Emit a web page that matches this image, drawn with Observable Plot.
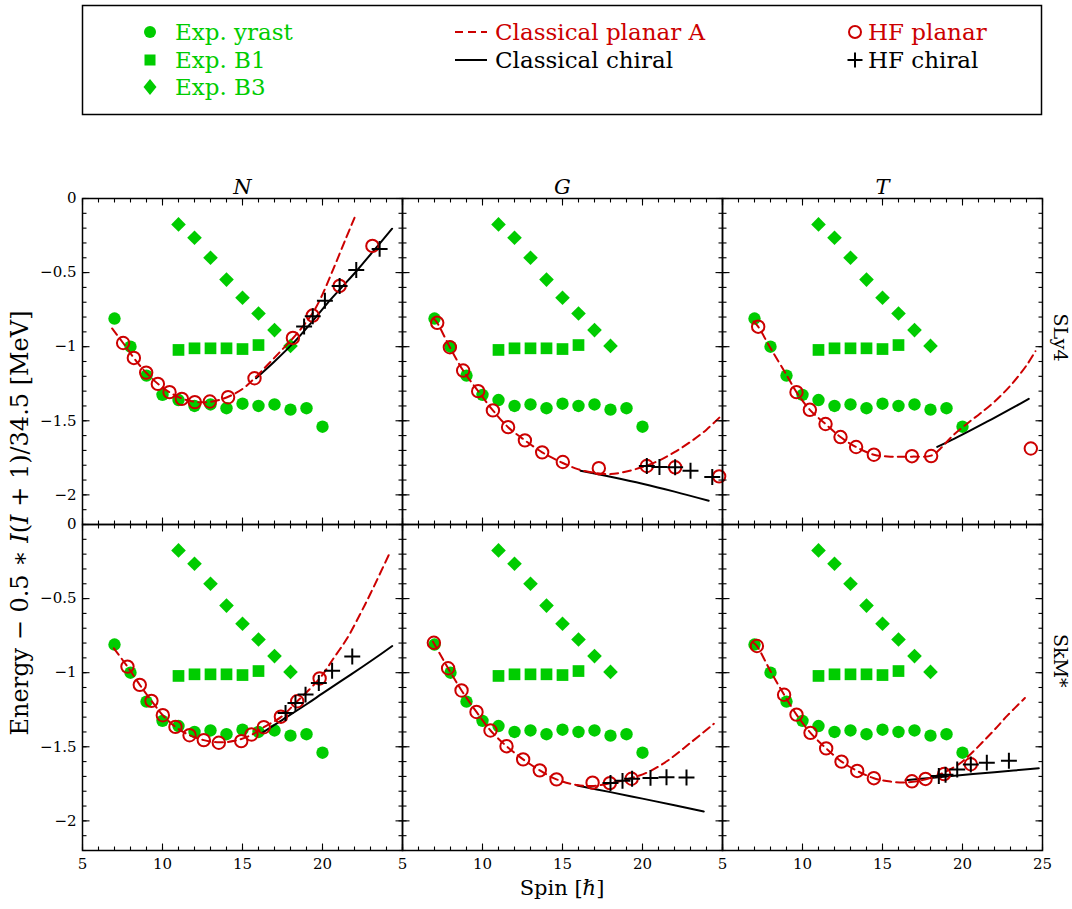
<!DOCTYPE html>
<html><head><meta charset="utf-8">
<script src="https://cdn.jsdelivr.net/npm/d3@7"></script>
<script src="https://cdn.jsdelivr.net/npm/@observablehq/plot@0.6"></script>
<style>
body{margin:0;background:#fff;font-family:"DejaVu Serif",serif;}
#wrap{position:relative;width:1072px;height:909px;overflow:hidden;}
#legend{display:block}
#chart svg{display:block}
.atitle{position:absolute;white-space:nowrap;color:#000;font-family:"DejaVu Serif",serif;line-height:1;}
#xlabel{left:562px;top:888px;font-size:21px;transform:translate(-50%,-50%);}
#ylabel{left:20px;top:523px;font-size:24px;transform:translate(-50%,-50%) rotate(-90deg);}
</style></head><body>
<div id="wrap">
<svg id="legend" width="1072" height="120"></svg>
<div id="chart"></div>
<div id="xlabel" class="atitle">Spin [<i>ℏ</i>]</div>
<div id="ylabel" class="atitle">Energy − 0.5 ∗ <i>I</i>(<i>I</i> + 1)/34.5 [MeV]</div>
</div>
<script>
// ---------- categories ----------
const cols = ["N", "G", "T"];
const rows = ["SLy4", "SkM*"];
const xTickValues = [5, 10, 15, 20, 25];
const yTickValues = [0, -0.5, -1, -1.5, -2];

// ---------- experimental data (same in all panels) ----------
const expSpinYrast = [7, 8, 9, 10, 11, 12, 13, 14, 15, 16, 17, 18, 19, 20];
const expEYrast = [-0.81, -1.00, -1.195, -1.325, -1.36, -1.40, -1.39, -1.415, -1.385, -1.40, -1.39, -1.425, -1.415, -1.54];
const expSpinB1 = [11, 12, 13, 14, 15, 16];
const expEB1 = [-1.022, -1.011, -1.011, -1.011, -1.016, -0.989];
const expSpinB3 = [11, 12, 13, 14, 15, 16, 17, 18];
const expEB3 = [-0.175, -0.265, -0.40, -0.547, -0.67, -0.776, -0.888, -0.995];

// ---------- N / SLy4 ----------
const cpA_N_SLy4 = [[6.85,-0.877],[7.54,-0.975],[8.21,-1.076],[9.0,-1.178],[10.0,-1.275],[11.0,-1.34],[12.0,-1.372],[13.0,-1.372],[14.0,-1.343],[15.0,-1.285],[15.75,-1.213],[16.5,-1.13],[17.3,-1.04],[18.15,-0.943],[18.8,-0.86],[19.4,-0.77],[19.9,-0.67],[20.7,-0.47],[21.44,-0.275],[22.0,-0.13]];
const cc_N_SLy4 = [[15.85,-1.213],[17.0,-1.10],[18.2,-0.973],[19.3,-0.838],[20.29,-0.709],[21.2,-0.60],[22.17,-0.484],[23.2,-0.352],[24.35,-0.204]];
const hfp_N_SLy4 = [[7.54,-0.975],[8.21,-1.076],[8.98,-1.175],[9.71,-1.251],[10.44,-1.307],[11.21,-1.352],[12.02,-1.374],[12.96,-1.37],[14.1,-1.341],[15.75,-1.213],[18.15,-0.941],[19.39,-0.79],[21.07,-0.59],[23.12,-0.32]];
const hfc_N_SLy4 = [[18.85,-0.864],[19.39,-0.795],[20.15,-0.69],[21.07,-0.59],[22.11,-0.483],[23.57,-0.34]];

// ---------- G / SLy4 ----------
const cpA_G_SLy4 = [[6.95,-0.81],[7.17,-0.839],[7.96,-1.004],[8.79,-1.161],[9.73,-1.30],[10.65,-1.43],[11.6,-1.543],[12.65,-1.632],[13.73,-1.713],[15.02,-1.785],[16.0,-1.828],[17.0,-1.852],[18.0,-1.86],[19.0,-1.842],[20.0,-1.812],[21.0,-1.77],[22.0,-1.712],[23.0,-1.642],[24.0,-1.56],[24.875,-1.471]];
const cc_G_SLy4 = [[16.125,-1.837],[18.0,-1.878],[20.0,-1.925],[22.0,-1.978],[24.14,-2.04]];
const hfp_G_SLy4 = [[7.17,-0.839],[7.96,-1.004],[8.79,-1.161],[9.73,-1.30],[10.65,-1.43],[11.6,-1.543],[12.65,-1.632],[13.73,-1.713],[15.02,-1.778],[17.27,-1.82],[20.27,-1.805],[22.04,-1.814],[24.79,-1.875]];
const hfc_G_SLy4 = [[20.27,-1.805],[21.06,-1.812],[22.04,-1.814],[23.0,-1.837],[24.36,-1.88]];

// ---------- T / SLy4 ----------
const cpA_T_SLy4 = [[6.95,-0.83],[7.23,-0.865],[8.0,-1.01],[9.0,-1.19],[9.625,-1.307],[10.46,-1.426],[11.44,-1.522],[12.375,-1.61],[13.35,-1.677],[14.46,-1.729],[15.5,-1.742],[16.84,-1.742],[18.04,-1.735],[18.6,-1.69],[19.35,-1.605],[20.4,-1.51],[21.125,-1.449],[22.06,-1.365],[23.1,-1.25],[24.04,-1.12],[24.56,-1.03]];
const cc_T_SLy4 = [[18.42,-1.676],[19.5,-1.62],[20.5,-1.565],[21.5,-1.508],[22.5,-1.45],[23.3,-1.403],[24.14,-1.352]];
const hfp_T_SLy4 = [[7.23,-0.865],[9.625,-1.307],[10.46,-1.426],[11.44,-1.522],[12.375,-1.61],[13.35,-1.677],[14.46,-1.729],[16.84,-1.739],[18.04,-1.738],[24.27,-1.687]];
const hfc_T_SLy4 = [];

// ---------- N / SkM* ----------
const cpA_N_SkM = [[6.96,-0.836],[7.81,-0.959],[8.58,-1.082],[9.31,-1.19],[10.02,-1.287],[10.81,-1.366],[11.69,-1.422],[12.58,-1.455],[13.52,-1.47],[14.5,-1.46],[15.56,-1.42],[16.33,-1.368],[17.4,-1.30],[18.42,-1.193],[19.82,-1.039],[20.71,-0.90],[21.54,-0.768],[22.375,-0.60],[23.0,-0.466],[24.14,-0.206]];
const cc_N_SkM = [[16.23,-1.406],[17.5,-1.318],[19.0,-1.213],[20.0,-1.14],[21.125,-1.059],[22.5,-0.96],[23.5,-0.886],[24.36,-0.82]];
const hfp_N_SkM = [[7.81,-0.959],[8.58,-1.082],[9.31,-1.19],[10.02,-1.287],[10.81,-1.366],[11.69,-1.422],[12.58,-1.455],[13.52,-1.473],[14.92,-1.462],[15.56,-1.417],[16.33,-1.368],[17.4,-1.297],[18.42,-1.193],[19.82,-1.039]];
const hfc_N_SkM = [[17.69,-1.272],[18.31,-1.205],[18.94,-1.148],[19.77,-1.07],[20.6,-0.987],[21.86,-0.891]];

// ---------- G / SkM* ----------
const cpA_G_SkM = [[6.9,-0.79],[7.85,-0.97],[8.69,-1.12],[9.625,-1.265],[10.5,-1.39],[11.5,-1.496],[12.54,-1.585],[13.58,-1.659],[14.625,-1.72],[15.9,-1.758],[16.96,-1.764],[18.21,-1.741],[19.25,-1.712],[20.29,-1.674],[21.54,-1.596],[23.0,-1.473],[24.46,-1.345]];
const cc_G_SkM = [[15.92,-1.762],[18.0,-1.806],[20.0,-1.85],[22.0,-1.895],[23.83,-1.937]];
const hfp_G_SkM = [[6.96,-0.798],[7.85,-0.97],[8.69,-1.12],[9.625,-1.265],[10.5,-1.39],[11.5,-1.496],[12.54,-1.585],[13.58,-1.659],[14.625,-1.72],[16.88,-1.742],[17.96,-1.745],[19.32,-1.716]];
const hfc_G_SkM = [[18.0,-1.745],[18.75,-1.73],[19.35,-1.716],[20.5,-1.71],[21.5,-1.705],[22.75,-1.708]];

// ---------- T / SkM* ----------
const cpA_T_SkM = [[6.95,-0.80],[7.15,-0.82],[8.0,-0.99],[8.85,-1.149],[9.625,-1.283],[10.5,-1.406],[11.48,-1.511],[12.44,-1.60],[13.42,-1.663],[14.46,-1.712],[15.5,-1.735],[16.5,-1.74],[17.5,-1.725],[18.5,-1.69],[19.1,-1.66],[19.8,-1.615],[20.5,-1.55],[21.2,-1.475],[22.0,-1.385],[22.8,-1.29],[23.9,-1.171]];
const cc_T_SkM = [[16.44,-1.726],[18.0,-1.71],[20.0,-1.69],[22.0,-1.672],[24.77,-1.645]];
const hfp_T_SkM = [[7.15,-0.82],[8.85,-1.149],[9.625,-1.283],[10.5,-1.406],[11.48,-1.511],[12.44,-1.60],[13.42,-1.663],[14.46,-1.712],[16.84,-1.733],[17.69,-1.717],[18.85,-1.684],[20.52,-1.618]];
const hfc_T_SkM = [[18.52,-1.697],[18.94,-1.689],[19.67,-1.654],[20.52,-1.619],[21.52,-1.607],[22.9,-1.594]];

// ---------- build tables ----------
const panelSeries = [
  {col: "N", row: "SLy4", planarA: cpA_N_SLy4, chiral: cc_N_SLy4, hfPlanar: hfp_N_SLy4, hfChiral: hfc_N_SLy4},
  {col: "G", row: "SLy4", planarA: cpA_G_SLy4, chiral: cc_G_SLy4, hfPlanar: hfp_G_SLy4, hfChiral: hfc_G_SLy4},
  {col: "T", row: "SLy4", planarA: cpA_T_SLy4, chiral: cc_T_SLy4, hfPlanar: hfp_T_SLy4, hfChiral: hfc_T_SLy4},
  {col: "N", row: "SkM*", planarA: cpA_N_SkM, chiral: cc_N_SkM, hfPlanar: hfp_N_SkM, hfChiral: hfc_N_SkM},
  {col: "G", row: "SkM*", planarA: cpA_G_SkM, chiral: cc_G_SkM, hfPlanar: hfp_G_SkM, hfChiral: hfc_G_SkM},
  {col: "T", row: "SkM*", planarA: cpA_T_SkM, chiral: cc_T_SkM, hfPlanar: hfp_T_SkM, hfChiral: hfc_T_SkM}
];
const flat = key => panelSeries.flatMap(p => p[key].map(([s, e]) => ({col: p.col, row: p.row, key: p.col + p.row, spin: s, energy: e})));
const planarAData = flat("planarA");
const chiralData = flat("chiral");
const hfPlanarData = flat("hfPlanar");
const hfChiralData = flat("hfChiral");
const pairs = (xs, ys) => xs.map((s, i) => ({spin: s, energy: ys[i]}));
const yrastData = pairs(expSpinYrast, expEYrast);
const b1Data = pairs(expSpinB1, expEB1);
const b3Data = pairs(expSpinB3, expEB3);

const xLabelData = cols.flatMap(c => xTickValues.filter(v => v < 25 || c === "T").map(v => ({col: c, row: "SkM*", v})));
const yLabelData = rows.flatMap(r => yTickValues.map(v => ({col: "N", row: r, v})));
const colTitleData = cols.map(c => ({col: c, row: "SLy4"}));
const rowTitleData = rows.map(r => ({col: "T", row: r}));
const fmtY = v => v === 0 ? "0" : (v < 0 ? "\u2212" : "") + String(Math.abs(v));

const green = "#00cc00", red = "#cc0000";
const majorX = [5, 10, 15, 20, 25];
const minorX = d3.range(5, 26, 1);
const majorY = [0, -0.5, -1, -1.5, -2];
const minorY = d3.range(-22, 1).map(i => i / 10);

const W = 1072, H = 789, mT = 77, mB = 59, mL = 82, mR = 30;
const xDom = [5, 25], yDom = [-2.2, 0];
const panelW = (W - mL - mR) / cols.length;
const panelH = (H - mT - mB) / rows.length;
const perX = (xDom[1] - xDom[0]) / panelW;   // data units per pixel
const perY = (yDom[1] - yDom[0]) / panelH;
const perPanel = vals => panelSeries.flatMap(p => vals.map(v => ({col: p.col, row: p.row, v})));
const tickStyle = {stroke: "black", strokeWidth: 1.1};
// tick marks as short links measured from the frame edges (in scale units)
const xTicks = (vals, len, side) => Plot.link(perPanel(vals), {
  x1: "v", x2: "v",
  y1: () => side === "bottom" ? yDom[0] : yDom[1],
  y2: () => side === "bottom" ? yDom[0] + len * perY : yDom[1] - len * perY,
  fx: "col", fy: "row", ...tickStyle});
const yTicks = (vals, len, side) => Plot.link(perPanel(vals), {
  y1: "v", y2: "v",
  x1: () => side === "left" ? xDom[0] : xDom[1],
  x2: () => side === "left" ? xDom[0] + len * perX : xDom[1] - len * perX,
  fx: "col", fy: "row", ...tickStyle});

const chart = Plot.plot({
  width: W, height: H,
  marginTop: mT, marginBottom: mB, marginLeft: mL, marginRight: mR,
  style: {fontFamily: "DejaVu Serif, serif", fontSize: "15px", background: "white", color: "black"},
  x: {domain: xDom, axis: null},
  y: {domain: yDom, axis: null},
  fx: {domain: cols, padding: 0, axis: null},
  fy: {domain: rows, padding: 0, axis: null},
  marks: [
    Plot.dot(b3Data, {x: "spin", y: "energy", symbol: "diamond2", r: 6.6, fill: green}),
    Plot.dot(b1Data, {x: "spin", y: "energy", symbol: "square", r: 6.6, fill: green}),
    Plot.dot(yrastData, {x: "spin", y: "energy", symbol: "circle", r: 6.2, fill: green}),
    Plot.line(chiralData, {x: "spin", y: "energy", z: "key", fx: "col", fy: "row", stroke: "black", strokeWidth: 2, curve: "catmull-rom"}),
    Plot.line(planarAData, {x: "spin", y: "energy", z: "key", fx: "col", fy: "row", stroke: red, strokeWidth: 2, strokeDasharray: "8,5", curve: "catmull-rom"}),
    Plot.dot(hfPlanarData, {x: "spin", y: "energy", fx: "col", fy: "row", symbol: "circle", r: 6.2, stroke: red, strokeWidth: 2, fill: "none"}),
    Plot.dot(hfChiralData, {x: "spin", y: "energy", fx: "col", fy: "row", symbol: "plus", r: 5.2, stroke: "black", strokeWidth: 2}),
    Plot.frame({stroke: "black", strokeWidth: 1.5}),
    xTicks(minorX, 4, "bottom"),
    xTicks(majorX, 7, "bottom"),
    xTicks(minorX, 4, "top"),
    xTicks(majorX, 7, "top"),
    yTicks(minorY, 4, "left"),
    yTicks(majorY, 7, "left"),
    yTicks(minorY, 4, "right"),
    yTicks(majorY, 7, "right"),
    Plot.text(xLabelData, {x: "v", fx: "col", fy: "row", text: d => String(d.v), frameAnchor: "bottom", dy: 18, fontSize: 15}),
    Plot.text(yLabelData, {y: "v", fx: "col", fy: "row", text: d => fmtY(d.v), frameAnchor: "left", dx: -6, textAnchor: "end", fontSize: 15}),
    Plot.text(colTitleData, {fx: "col", fy: "row", text: "col", frameAnchor: "top", dy: -19, fontSize: 21, fontStyle: "italic"}),
    Plot.text(rowTitleData, {fx: "col", fy: "row", text: "row", frameAnchor: "right", dx: 18, rotate: 90, fontSize: 19})
  ]
});
document.getElementById("chart").appendChild(chart);

// ---------- legend ----------
const legendRows = [
  {label: "Exp. yrast", color: green, kind: "circle", col: 0, row: 0},
  {label: "Exp. B1", color: green, kind: "square", col: 0, row: 1},
  {label: "Exp. B3", color: green, kind: "diamond", col: 0, row: 2},
  {label: "Classical planar A", color: red, kind: "dash", col: 1, row: 0},
  {label: "Classical chiral", color: "black", kind: "solid", col: 1, row: 1},
  {label: "HF planar", color: red, kind: "open", col: 2, row: 0},
  {label: "HF chiral", color: "black", kind: "plus", col: 2, row: 1}
];
const legendLayout = {markX: [150, 471, 855], textX: [175, 495, 868], rowY: [32, 60, 87]};
const leg = d3.select("#legend");
leg.append("rect").attr("x", 82.5).attr("y", 5.5).attr("width", 959).attr("height", 109)
  .attr("fill", "none").attr("stroke", "black").attr("stroke-width", 1.5);
for (const it of legendRows) {
  const mx = legendLayout.markX[it.col], y = legendLayout.rowY[it.row], tx = legendLayout.textX[it.col];
  const g = leg.append("g");
  if (it.kind === "circle") g.append("circle").attr("cx", mx).attr("cy", y).attr("r", 6).attr("fill", it.color);
  if (it.kind === "square") g.append("rect").attr("x", mx - 5.5).attr("y", y - 5.5).attr("width", 11).attr("height", 11).attr("fill", it.color);
  if (it.kind === "diamond") g.append("path").attr("d", `M${mx},${y-8}L${mx+6.5},${y}L${mx},${y+8}L${mx-6.5},${y}Z`).attr("fill", it.color);
  if (it.kind === "dash") g.append("line").attr("x1", mx - 16).attr("x2", mx + 16).attr("y1", y).attr("y2", y).attr("stroke", it.color).attr("stroke-width", 2).attr("stroke-dasharray", "8,5");
  if (it.kind === "solid") g.append("line").attr("x1", mx - 16).attr("x2", mx + 16).attr("y1", y).attr("y2", y).attr("stroke", it.color).attr("stroke-width", 2);
  if (it.kind === "open") g.append("circle").attr("cx", mx).attr("cy", y).attr("r", 6).attr("fill", "none").attr("stroke", it.color).attr("stroke-width", 2);
  if (it.kind === "plus") g.append("path").attr("d", `M${mx-7.5},${y}H${mx+7.5}M${mx},${y-7.5}V${y+7.5}`).attr("stroke", it.color).attr("stroke-width", 2);
  g.append("text").attr("x", tx).attr("y", y + 8).attr("fill", it.color)
    .attr("font-family", "DejaVu Serif, serif").attr("font-size", 23).text(it.label);
}
</script>
</body></html>
